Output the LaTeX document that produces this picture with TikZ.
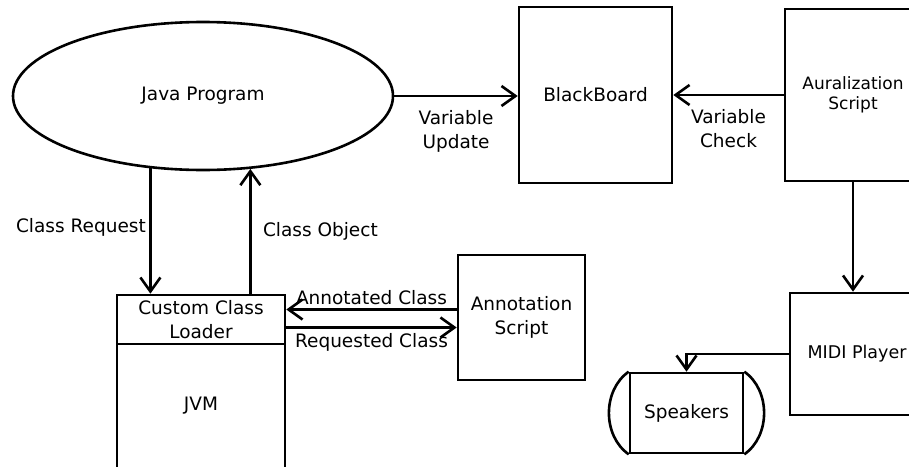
\documentclass[tikz,border=0pt]{standalone}
\usepackage{fontspec}
\setmainfont{DejaVu Sans}
\usetikzlibrary{arrows.meta,positioning,calc,shapes.geometric}

\begin{document}
\begin{tikzpicture}[
    x=1pt, y=-1pt,
    % --- global styles ---
    base font/.style={font=\fontsize{18.5}{24}\selectfont},
    box/.style={draw, line width=2.6pt, rectangle, base font, align=center},
    prog/.style={draw, line width=2.6pt, ellipse, base font, minimum width=380pt, minimum height=148pt},
    % message arrows (open V tip)
    flow/.style={line width=2.6pt, -{Straight Barb[length=14pt, width=20pt]}},
    wire/.style={line width=2.6pt},
    note/.style={base font, align=center}
]
    \useasboundingbox (0,0) rectangle (909,466);

    % --- 1. Java program, blackboard, auralization script ---
    \node[prog] (java) at (203,96) {Java Program};
    \node[box, minimum width=153pt, minimum height=176pt] (board) at (595.5,95) {BlackBoard};
    \node[box, minimum width=136pt, minimum height=172pt, font=\fontsize{17}{20}\selectfont] (aural) at (853,95) {Auralization\\Script};

    % --- 2. class loader, JVM, annotation script ---
    \node[box, minimum width=168pt, minimum height=49pt] (loader) at (201,319.5) {Custom Class\\Loader};
    \node[box, minimum width=168pt, minimum height=124pt, below=-2.6pt of loader] (jvm) {JVM};
    \node[box, minimum width=127pt, minimum height=125pt] (annot) at (521.5,317.5) {Annotation\\Script};

    % --- 3. MIDI player and speakers ---
    \node[box, minimum width=134pt, minimum height=122pt, font=\fontsize{17.5}{22}\selectfont] (midi) at (857,354) {MIDI Player};
    \node[box, minimum width=113pt, minimum height=80pt] (speakers) at (686.5,413) {Speakers};
    % side caps of the speaker
    \draw[wire] (speakers.north west) to[bend right=55] (speakers.south west);
    \draw[wire] (speakers.north east) to[bend left=55] (speakers.south east);

    % --- 4. connectors ---
    % [top row]
    \draw[flow] (java.east) -- (java.east -| board.west)
        node[note, midway, below=10pt] {Variable\\Update};
    \draw[flow] (aural.west) -- (aural.west -| board.east)
        node[note, midway, below=10pt] {Variable\\Check};
    \draw[flow] (aural.south) -- (aural.south |- midi.north);
    \draw[flow] (midi.west) -| (speakers.north);

    % [program <-> class loader]
    \draw[flow] (java.234) -- (java.234 |- loader.north)
        node[note, midway, left, yshift=4pt] {Class Request};
    \draw[flow] (loader.north -| java.303) -- (java.303)
        node[note, midway, right=8pt] {Class Object};

    % [class loader <-> annotation script]
    \coordinate (ann_in) at ($(annot.west)+(0,-8)$);
    \coordinate (ann_out) at ($(annot.west)+(0,10)$);
    \draw[flow] (ann_in) -- (ann_in -| loader.east)
        node[note, midway, above] {Annotated Class};
    \draw[flow] (ann_out -| loader.east) -- (ann_out)
        node[note, midway, below=1pt] {Requested Class};

\end{tikzpicture}
\end{document}
